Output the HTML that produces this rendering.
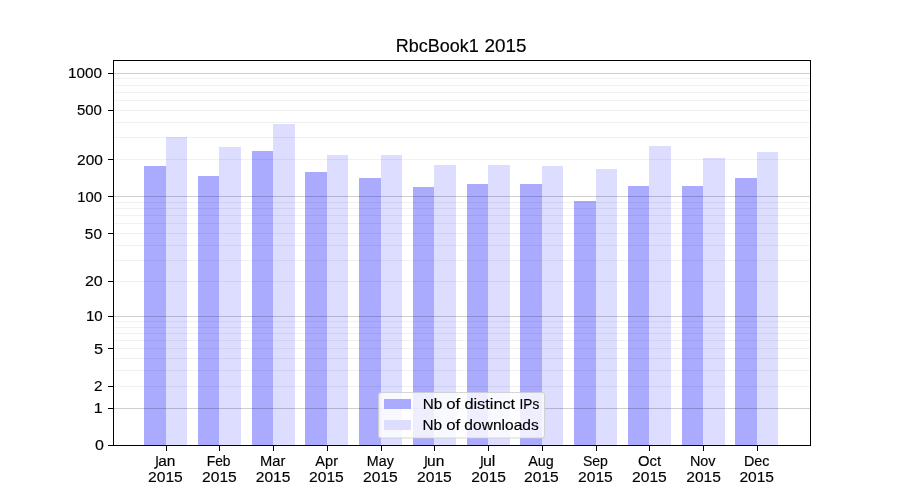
<!DOCTYPE html>
<html><head><meta charset="utf-8"><title>RbcBook1 2015</title>
<style>
html,body{margin:0;padding:0;background:#fff;}
body{width:900px;height:500px;overflow:hidden;}
svg{display:block;will-change:transform;}
text{font-family:"Liberation Sans",sans-serif;fill:#000;font-kerning:none;stroke:#000;stroke-width:0.15px;}
</style></head><body>
<svg width="900" height="500" viewBox="0 0 900 500">
<rect x="0" y="0" width="900" height="500" fill="#fff"/>
<g shape-rendering="crispEdges">
<rect x="144" y="166" width="22" height="279" fill="#aaaaff"/>
<rect x="166" y="137" width="21" height="308" fill="#ddddff"/>
<rect x="198" y="176" width="21" height="269" fill="#aaaaff"/>
<rect x="219" y="147" width="22" height="298" fill="#ddddff"/>
<rect x="252" y="151" width="21" height="294" fill="#aaaaff"/>
<rect x="273" y="124" width="22" height="321" fill="#ddddff"/>
<rect x="305" y="172" width="22" height="273" fill="#aaaaff"/>
<rect x="327" y="155" width="21" height="290" fill="#ddddff"/>
<rect x="359" y="178" width="22" height="267" fill="#aaaaff"/>
<rect x="381" y="155" width="21" height="290" fill="#ddddff"/>
<rect x="413" y="187" width="21" height="258" fill="#aaaaff"/>
<rect x="434" y="165" width="22" height="280" fill="#ddddff"/>
<rect x="467" y="184" width="21" height="261" fill="#aaaaff"/>
<rect x="488" y="165" width="22" height="280" fill="#ddddff"/>
<rect x="520" y="184" width="22" height="261" fill="#aaaaff"/>
<rect x="542" y="166" width="21" height="279" fill="#ddddff"/>
<rect x="574" y="201" width="22" height="244" fill="#aaaaff"/>
<rect x="596" y="169" width="21" height="276" fill="#ddddff"/>
<rect x="628" y="186" width="21" height="259" fill="#aaaaff"/>
<rect x="649" y="146" width="22" height="299" fill="#ddddff"/>
<rect x="682" y="186" width="21" height="259" fill="#aaaaff"/>
<rect x="703" y="158" width="22" height="287" fill="#ddddff"/>
<rect x="735" y="178" width="22" height="267" fill="#aaaaff"/>
<rect x="757" y="152" width="21" height="293" fill="#ddddff"/>
</g>
<g shape-rendering="crispEdges">
<rect x="114" y="386" width="696" height="1" fill="#000" fill-opacity="0.055"/>
<rect x="114" y="370" width="696" height="1" fill="#000" fill-opacity="0.055"/>
<rect x="114" y="358" width="696" height="1" fill="#000" fill-opacity="0.055"/>
<rect x="114" y="348" width="696" height="1" fill="#000" fill-opacity="0.055"/>
<rect x="114" y="340" width="696" height="1" fill="#000" fill-opacity="0.055"/>
<rect x="114" y="333" width="696" height="1" fill="#000" fill-opacity="0.055"/>
<rect x="114" y="327" width="696" height="1" fill="#000" fill-opacity="0.055"/>
<rect x="114" y="321" width="696" height="1" fill="#000" fill-opacity="0.055"/>
<rect x="114" y="281" width="696" height="1" fill="#000" fill-opacity="0.055"/>
<rect x="114" y="260" width="696" height="1" fill="#000" fill-opacity="0.055"/>
<rect x="114" y="245" width="696" height="1" fill="#000" fill-opacity="0.055"/>
<rect x="114" y="233" width="696" height="1" fill="#000" fill-opacity="0.055"/>
<rect x="114" y="223" width="696" height="1" fill="#000" fill-opacity="0.055"/>
<rect x="114" y="215" width="696" height="1" fill="#000" fill-opacity="0.055"/>
<rect x="114" y="208" width="696" height="1" fill="#000" fill-opacity="0.055"/>
<rect x="114" y="202" width="696" height="1" fill="#000" fill-opacity="0.055"/>
<rect x="114" y="159" width="696" height="1" fill="#000" fill-opacity="0.055"/>
<rect x="114" y="137" width="696" height="1" fill="#000" fill-opacity="0.055"/>
<rect x="114" y="122" width="696" height="1" fill="#000" fill-opacity="0.055"/>
<rect x="114" y="110" width="696" height="1" fill="#000" fill-opacity="0.055"/>
<rect x="114" y="100" width="696" height="1" fill="#000" fill-opacity="0.055"/>
<rect x="114" y="92" width="696" height="1" fill="#000" fill-opacity="0.055"/>
<rect x="114" y="85" width="696" height="1" fill="#000" fill-opacity="0.055"/>
<rect x="114" y="78" width="696" height="1" fill="#000" fill-opacity="0.055"/>
<rect x="114" y="408" width="696" height="1" fill="#000" fill-opacity="0.19"/>
<rect x="114" y="316" width="696" height="1" fill="#000" fill-opacity="0.19"/>
<rect x="114" y="196" width="696" height="1" fill="#000" fill-opacity="0.19"/>
<rect x="114" y="73" width="696" height="1" fill="#000" fill-opacity="0.19"/>
</g>
<rect x="378.5" y="392.5" width="166" height="45.5" rx="2.8" ry="2.8" fill="#fff" fill-opacity="0.8" stroke="#ccc" stroke-opacity="0.8" stroke-width="1.1"/>
<g shape-rendering="crispEdges"><rect x="384" y="399" width="27" height="10" fill="#aaaaff"/><rect x="384" y="420" width="27" height="10" fill="#ddddff"/></g>
<g shape-rendering="crispEdges" fill="#000">
<rect x="113" y="60" width="698" height="1"/>
<rect x="113" y="445" width="698" height="1"/>
<rect x="113" y="60" width="1" height="386"/>
<rect x="810" y="60" width="1" height="386"/>
<rect x="108" y="445" width="5" height="1"/>
<rect x="108" y="408" width="5" height="1"/>
<rect x="108" y="386" width="5" height="1"/>
<rect x="108" y="348" width="5" height="1"/>
<rect x="108" y="316" width="5" height="1"/>
<rect x="108" y="281" width="5" height="1"/>
<rect x="108" y="233" width="5" height="1"/>
<rect x="108" y="196" width="5" height="1"/>
<rect x="108" y="159" width="5" height="1"/>
<rect x="108" y="110" width="5" height="1"/>
<rect x="108" y="73" width="5" height="1"/>
<rect x="166" y="446" width="1" height="5"/>
<rect x="219" y="446" width="1" height="5"/>
<rect x="273" y="446" width="1" height="5"/>
<rect x="327" y="446" width="1" height="5"/>
<rect x="381" y="446" width="1" height="5"/>
<rect x="434" y="446" width="1" height="5"/>
<rect x="488" y="446" width="1" height="5"/>
<rect x="542" y="446" width="1" height="5"/>
<rect x="596" y="446" width="1" height="5"/>
<rect x="649" y="446" width="1" height="5"/>
<rect x="703" y="446" width="1" height="5"/>
<rect x="757" y="446" width="1" height="5"/>
</g>
<path d="M157.05,456 V465.7 Q157.05,468.1 154.15,468.1" fill="none" stroke="#000" stroke-width="1.35"/>
<path d="M426.0,456 V465.7 Q426.0,468.1 423.10,468.1" fill="none" stroke="#000" stroke-width="1.35"/>
<path d="M481.95,456 V465.7 Q481.95,468.1 479.05,468.1" fill="none" stroke="#000" stroke-width="1.35"/>
<text transform="translate(422.65,408.80) scale(1.0388,1)" font-size="14.7">Nb</text>
<text transform="translate(446.22,408.80) scale(1.1440,1)" font-size="14.7">of</text>
<text transform="translate(422.55,430.00) scale(1.0429,1)" font-size="14.7">Nb</text>
<text transform="translate(446.22,430.00) scale(1.1440,1)" font-size="14.7">of</text>
<text transform="translate(464.40,408.80) scale(1.1104,1)" font-size="14.7">distinct</text>
<text transform="translate(519.57,408.80) scale(0.9279,1)" font-size="14.7">IPs</text>
<text transform="translate(464.36,430.00) scale(1.0587,1)" font-size="14.7">downloads</text>
<text transform="translate(67.92,78.00) scale(1.0409,1)" font-size="14.7">1000</text>
<text transform="translate(76.94,115.00) scale(1.0168,1)" font-size="14.7">500</text>
<text transform="translate(77.03,165.00) scale(1.0540,1)" font-size="14.7">200</text>
<text transform="translate(77.27,202.00) scale(1.0068,1)" font-size="14.7">100</text>
<text transform="translate(84.85,239.00) scale(1.0450,1)" font-size="14.7">50</text>
<text transform="translate(84.94,286.00) scale(1.0927,1)" font-size="14.7">20</text>
<text transform="translate(85.96,321.00) scale(1.0281,1)" font-size="14.7">10</text>
<text transform="translate(93.88,354.00) scale(1.1123,1)" font-size="14.7">5</text>
<text transform="translate(94.07,391.00) scale(1.0360,1)" font-size="14.7">2</text>
<text transform="translate(93.85,413.00) scale(1.0850,1)" font-size="14.7">1</text>
<text transform="translate(94.93,450.00) scale(1.0897,1)" font-size="14.7">0</text>
<text transform="translate(158.24,466.00) scale(1.0517,1)" font-size="14.7">an</text>
<text transform="translate(148.03,482.00) scale(1.0647,1)" font-size="14.7">2015</text>
<text transform="translate(206.75,466.00) scale(0.9398,1)" font-size="14.7">Feb</text>
<text transform="translate(202.02,482.00) scale(1.0640,1)" font-size="14.7">2015</text>
<text transform="translate(260.09,466.00) scale(1.0013,1)" font-size="14.7">Mar</text>
<text transform="translate(255.77,482.00) scale(1.0601,1)" font-size="14.7">2015</text>
<text transform="translate(315.35,466.00) scale(0.9905,1)" font-size="14.7">Apr</text>
<text transform="translate(309.03,482.00) scale(1.0647,1)" font-size="14.7">2015</text>
<text transform="translate(366.85,466.00) scale(0.9703,1)" font-size="14.7">May</text>
<text transform="translate(363.02,482.00) scale(1.0640,1)" font-size="14.7">2015</text>
<text transform="translate(426.99,466.00) scale(1.0587,1)" font-size="14.7">un</text>
<text transform="translate(417.02,482.00) scale(1.0640,1)" font-size="14.7">2015</text>
<text transform="translate(482.96,466.00) scale(1.0899,1)" font-size="14.7">ul</text>
<text transform="translate(471.32,482.00) scale(1.0625,1)" font-size="14.7">2015</text>
<text transform="translate(528.30,466.00) scale(0.9779,1)" font-size="14.7">Aug</text>
<text transform="translate(524.03,482.00) scale(1.0647,1)" font-size="14.7">2015</text>
<text transform="translate(582.91,466.00) scale(0.9572,1)" font-size="14.7">Sep</text>
<text transform="translate(578.03,482.00) scale(1.0647,1)" font-size="14.7">2015</text>
<text transform="translate(637.96,466.00) scale(1.0091,1)" font-size="14.7">Oct</text>
<text transform="translate(632.03,482.00) scale(1.0647,1)" font-size="14.7">2015</text>
<text transform="translate(689.90,466.00) scale(0.9832,1)" font-size="14.7">Nov</text>
<text transform="translate(686.24,482.00) scale(1.0603,1)" font-size="14.7">2015</text>
<text transform="translate(743.89,466.00) scale(0.9790,1)" font-size="14.7">Dec</text>
<text transform="translate(739.40,482.00) scale(1.0585,1)" font-size="14.7">2015</text>
<text transform="translate(395.84,52.00) scale(1.0201,1)" font-size="17.65">RbcBook1</text>
<text transform="translate(484.48,52.00) scale(1.0693,1)" font-size="17.65">2015</text>
</svg></body></html>
